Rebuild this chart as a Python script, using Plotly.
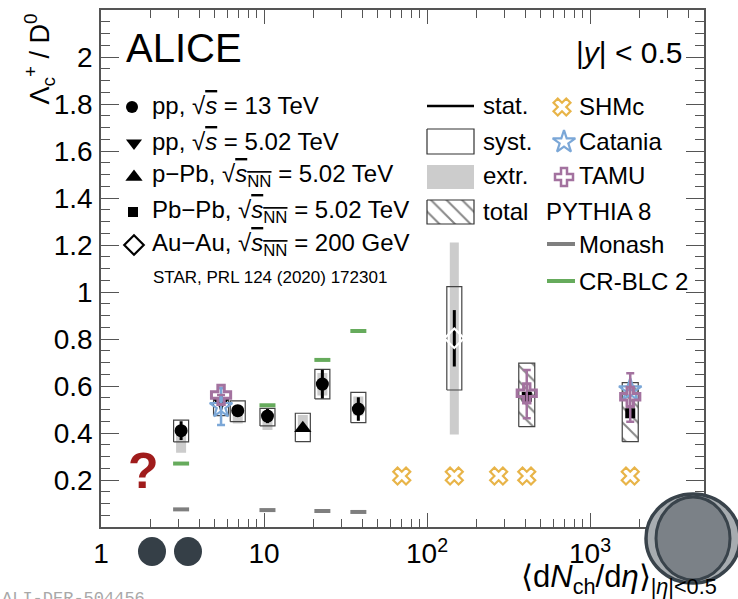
import math
import plotly.graph_objects as go

# ---------------- data ----------------
pp13_x = [3.1, 6.9, 10.5, 22.8, 37.9]
pp13_y = [0.410, 0.495, 0.472, 0.608, 0.502]
pp13_stat = [0.040, 0.015, 0.030, 0.061, 0.050]
pp13_syst_lo = [0.362, 0.448, 0.430, 0.545, 0.444]
pp13_syst_hi = [0.455, 0.537, 0.505, 0.671, 0.573]
pp13_extr_lo = [0.316, 0.440, 0.413, 0.560, 0.475]
pp13_extr_hi = [0.410, 0.495, 0.472, 0.655, 0.555]

pp5_x = [5.45]
pp5_y = [0.530]
pp5_stat = [0.030]
pp5_syst_lo = [0.474]
pp5_syst_hi = [0.548]

ppb_x = [17.3]
ppb_y = [0.420]
ppb_stat = [0.015]
ppb_syst_lo = [0.363]
ppb_syst_hi = [0.484]
ppb_extr_lo = [0.420]
ppb_extr_hi = [0.477]

pbpb_x = [409, 1764]
pbpb_y = [0.554, 0.484]
pbpb_stat = [0.015, 0.020]
pbpb_tot_lo = [0.427, 0.363]
pbpb_tot_hi = [0.697, 0.614]

auau_x = [147]
auau_y = [0.803]
auau_stat = [0.120]
auau_syst_lo = [0.583]
auau_syst_hi = [1.023]
auau_extr_lo = [0.394]
auau_extr_hi = [1.211]

shmc_x = [70, 147, 275, 409, 1764]
shmc_y = [0.217, 0.217, 0.217, 0.217, 0.217]

catania_x = [5.45, 1764]
catania_y = [0.512, 0.583]
catania_err = [0.078, 0.0]

tamu_x = [5.45, 409, 1764]
tamu_y = [0.562, 0.569, 0.554]
tamu_err_up = [0.0, 0.099, 0.100]
tamu_err_dn = [0.0, 0.106, 0.106]

monash_x = [3.1, 10.5, 22.8, 37.9]
monash_y = [0.075, 0.072, 0.068, 0.064]
crblc_x = [3.1, 10.5, 22.8, 37.9]
crblc_y = [0.270, 0.518, 0.711, 0.834]

x_tickvals = [1, 10, 100, 1000]
x_ticktext = ["1", "10", "10<sup>2</sup>", "10<sup>3</sup>"]
y_tickvals = [0.2, 0.4, 0.6, 0.8, 1.0, 1.2, 1.4, 1.6, 1.8, 2.0]
y_ticktext = ["0.2", "0.4", "0.6", "0.8", "1", "1.2", "1.4", "1.6", "1.8", "2"]

# ---------------- style ----------------
FONT = "Liberation Sans, Arial, Helvetica, sans-serif"
FRAME = "#555555"
C_SHMC = "#e8b448"
C_CAT = "#7ba7d7"
C_TAMU = "#a3729f"
C_GREEN = "#66ab5c"
C_MONASH = "#7f7f7f"
C_EXTR = "#cccccc"
HATCH = dict(shape="\\", fgcolor="#111111", bgcolor="white", size=11, solidity=0.18)

BOX_F = 10 ** (7.5 / 163)   # half width of syst boxes in log-x
EXTR_F = 10 ** (5.0 / 163)
LINE_F = 10 ** (8.0 / 163)

# plot area in pixels
L, R, T, B = 101, 704, 10, 527
W, H = 738, 599


def X(px):
    return (px - L) / (R - L)


def Y(py):
    return (B - py) / (B - T)


def boxes(xs, lo, hi, f):
    bx, by = [], []
    for x, a, b in zip(xs, lo, hi):
        bx += [x / f, x * f, x * f, x / f, x / f, None]
        by += [a, a, b, b, a, None]
    return bx, by


def segs(xs, ys, f):
    sx, sy = [], []
    for x, y in zip(xs, ys):
        sx += [x / f, x * f, None]
        sy += [y, y, None]
    return sx, sy


fig = go.Figure()

# extrapolation bands (grey)
ex = boxes(pp13_x + ppb_x, pp13_extr_lo + ppb_extr_lo, pp13_extr_hi + ppb_extr_hi, EXTR_F)
fig.add_trace(go.Scatter(x=ex[0], y=ex[1], mode="lines", fill="toself",
                         fillcolor=C_EXTR, line=dict(width=0), hoverinfo="skip"))
ex = boxes(auau_x, auau_extr_lo, auau_extr_hi, 10 ** (4.5 / 163))
fig.add_trace(go.Scatter(x=ex[0], y=ex[1], mode="lines", fill="toself",
                         fillcolor=C_EXTR, line=dict(width=0), hoverinfo="skip"))

# systematic boxes
sb = boxes(pp13_x + pp5_x + ppb_x + auau_x,
           pp13_syst_lo + pp5_syst_lo + ppb_syst_lo + auau_syst_lo,
           pp13_syst_hi + pp5_syst_hi + ppb_syst_hi + auau_syst_hi, BOX_F)
fig.add_trace(go.Scatter(x=sb[0], y=sb[1], mode="lines",
                         line=dict(color="#444444", width=1.2), hoverinfo="skip"))

# total (hatched) boxes Pb-Pb
tb = boxes(pbpb_x, pbpb_tot_lo, pbpb_tot_hi, 10 ** (8.0 / 163))
fig.add_trace(go.Scatter(x=tb[0], y=tb[1], mode="lines", fill="toself",
                         fillcolor="rgba(0,0,0,0)", fillpattern=HATCH,
                         line=dict(color="#444444", width=1.2), hoverinfo="skip"))


# data points with stat errors
def data_trace(xs, ys, err, symbol, size, open_=False):
    return go.Scatter(
        x=xs, y=ys, mode="markers",
        error_y=dict(type="data", array=err, color="black", thickness=3, width=0),
        marker=dict(symbol=symbol, size=size, color="white" if open_ else "black",
                    line=dict(color="black", width=2.2 if open_ else 0)),
        hoverinfo="skip")


fig.add_trace(data_trace(pp13_x, pp13_y, pp13_stat, "circle", 13))
fig.add_trace(data_trace(pp5_x, pp5_y, pp5_stat, "triangle-down", 14))
fig.add_trace(data_trace(ppb_x, ppb_y, ppb_stat, "triangle-up", 15))
fig.add_trace(data_trace(pbpb_x, pbpb_y, pbpb_stat, "square", 10))
fig.add_trace(data_trace(auau_x, auau_y, auau_stat, "diamond-open", 15, open_=True))

# PYTHIA lines
mx, my = segs(monash_x, monash_y, LINE_F)
fig.add_trace(go.Scatter(x=mx, y=my, mode="lines", line=dict(color=C_MONASH, width=4),
                         hoverinfo="skip"))
gx, gy = segs(crblc_x, crblc_y, LINE_F)
fig.add_trace(go.Scatter(x=gx, y=gy, mode="lines", line=dict(color=C_GREEN, width=4),
                         hoverinfo="skip"))

# models
fig.add_trace(go.Scatter(x=catania_x, y=catania_y, mode="markers",
                         error_y=dict(type="data", array=catania_err, color=C_CAT,
                                      thickness=2.5, width=4),
                         marker=dict(symbol="star-open", size=17, color=C_CAT,
                                     line=dict(color=C_CAT, width=2.2)),
                         hoverinfo="skip"))
fig.add_trace(go.Scatter(x=tamu_x, y=tamu_y, mode="markers",
                         error_y=dict(type="data", symmetric=False, array=tamu_err_up,
                                      arrayminus=tamu_err_dn, color=C_TAMU,
                                      thickness=2.5, width=4),
                         marker=dict(symbol="cross-open", size=16, color=C_TAMU,
                                     line=dict(color=C_TAMU, width=3)),
                         hoverinfo="skip"))
fig.add_trace(go.Scatter(x=shmc_x, y=shmc_y, mode="markers",
                         marker=dict(symbol="x-open", size=15, color=C_SHMC,
                                     line=dict(color=C_SHMC, width=2.2)),
                         hoverinfo="skip"))


# ---------------- legend decorations (pixel overlay axes) ----------------
def px_trace(**kw):
    kw.setdefault("hoverinfo", "skip")
    return go.Scatter(xaxis="x2", yaxis="y2", **kw)


fig.add_trace(px_trace(x=[427, 474], y=[106, 106], mode="lines",
                       line=dict(color="black", width=2.5)))
fig.add_trace(px_trace(x=[427, 474, 474, 427, 427], y=[129, 129, 154, 154, 129],
                       mode="lines", line=dict(color="#333333", width=1.2)))
fig.add_trace(px_trace(x=[427, 474, 474, 427, 427], y=[165, 165, 189, 189, 165],
                       mode="lines", fill="toself", fillcolor=C_EXTR, line=dict(width=0)))
fig.add_trace(px_trace(x=[427, 474, 474, 427, 427], y=[200, 200, 224, 224, 200],
                       mode="lines", fill="toself", fillcolor="rgba(0,0,0,0)",
                       fillpattern=HATCH, line=dict(color="#333333", width=1.2)))
fig.add_trace(px_trace(x=[562], y=[107], mode="markers",
                       marker=dict(symbol="x-open", size=15, color=C_SHMC,
                                   line=dict(color=C_SHMC, width=2.2))))
fig.add_trace(px_trace(x=[564], y=[142], mode="markers",
                       marker=dict(symbol="star-open", size=17, color=C_CAT,
                                   line=dict(color=C_CAT, width=2.2))))
fig.add_trace(px_trace(x=[564], y=[177], mode="markers",
                       marker=dict(symbol="cross-open", size=15, color=C_TAMU,
                                   line=dict(color=C_TAMU, width=2.5))))
fig.add_trace(px_trace(x=[547, 575], y=[244, 244], mode="lines",
                       line=dict(color=C_MONASH, width=4)))
fig.add_trace(px_trace(x=[547, 575], y=[281, 281], mode="lines",
                       line=dict(color=C_GREEN, width=4)))
leg_sym = [("circle", 12, 132, 107), ("triangle-down", 14, 134, 143),
           ("triangle-up", 15, 134, 177), ("square", 10, 133, 212)]
for s, sz, x0, y0 in leg_sym:
    fig.add_trace(px_trace(x=[x0], y=[y0], mode="markers",
                           marker=dict(symbol=s, size=sz, color="black")))
fig.add_trace(px_trace(x=[134], y=[245], mode="markers",
                       marker=dict(symbol="diamond-open", size=15, color="black",
                                   line=dict(color="black", width=2.2))))

# ---------------- annotations ----------------
ann = []


def text(px, py, s, size, xanchor="left", yanchor="middle", color="black", **kw):
    ann.append(dict(x=X(px), y=Y(py), xref="paper", yref="paper", text=s,
                    showarrow=False, xanchor=xanchor, yanchor=yanchor,
                    font=dict(family=kw.pop("family", FONT), size=size, color=color),
                    **kw))


SQ = "\u221a"
OL = "<span style='text-decoration:overline'>"
text(124, 48, "ALICE", 40)
text(684, 53, "|<i>y</i>| &lt; 0.5", 30, xanchor="right")
text(150, 105, f"pp, {SQ}{OL}<i>s</i></span> = 13 TeV", 24)
text(150, 141, f"pp, {SQ}{OL}<i>s</i></span> = 5.02 TeV", 24)
text(150, 176, f"p\u2212Pb, {SQ}{OL}<i>s</i><sub>NN</sub></span> = 5.02 TeV", 24)
text(150, 211, f"Pb\u2212Pb, {SQ}{OL}<i>s</i><sub>NN</sub></span> = 5.02 TeV", 24)
text(150, 244, f"Au\u2212Au, {SQ}{OL}<i>s</i><sub>NN</sub></span> = 200 GeV", 24)
text(151, 277, "STAR, PRL 124 (2020) 172301", 17)
text(481, 105, "stat.", 24)
text(481, 141, "syst.", 24)
text(481, 176, "extr.", 24)
text(481, 211, "total", 24)
text(577, 106, "SHMc", 24)
text(577, 141, "Catania", 24)
text(577, 176, "TAMU", 24)
text(544, 211, "PYTHIA 8", 24)
text(577, 244, "Monash", 24)
text(577, 281, "CR-BLC 2", 24)
text(40, 12, "\u039b<sub>c</sub><sup>+</sup> / D<sup>0</sup>", 27, xanchor="center",
     yanchor="top", textangle=-90)
text(719, 579, "\u27e8d<i>N</i><sub>ch</sub>/d<i>\u03b7</i>\u27e9<sub>|<i>\u03b7</i>|&lt;0.5</sub>",
     31, xanchor="right")
text(143, 471, "<b>?</b>", 50, xanchor="center", color="#a01c1c")
text(0, 598, "ALI-DER-504456", 17, color="#a8a8a8",
     family="Liberation Mono, Courier New, monospace")

# ---------------- overlay shapes ----------------
shapes = []


def ell(x0, y0, x1, y1, fill, line=None, lw=0):
    shapes.append(dict(type="circle", xref="paper", yref="paper",
                       x0=X(x0), x1=X(x1), y0=Y(y1), y1=Y(y0), layer="above",
                       fillcolor=fill, line=dict(color=line or fill, width=lw)))


ell(138, 537, 166, 566, "#353f47")
ell(174, 537, 202, 566, "#353f47")
ell(646, 494, 740, 583, "#a7acb0", "#39434b", 3.5)
ell(656, 497, 730, 580, "#7b8187", "#39434b", 3)

minor_x = [m * d for d in (1, 10, 100, 1000) for m in range(2, 10) if m * d <= 5000]
minor_y = [round(0.05 * i, 2) for i in range(1, 45) if i % 4 != 0]

axis_common = dict(showgrid=False, zeroline=False, showline=True, linecolor=FRAME,
                   linewidth=1.5, mirror="ticks", ticks="inside", tickcolor=FRAME,
                   tickwidth=1.2, tickfont=dict(family=FONT, size=28, color="black"))

fig.update_layout(
    width=W, height=H,
    margin=dict(l=L, r=W - R, t=T, b=H - B, autoexpand=False),
    paper_bgcolor="white", plot_bgcolor="white",
    showlegend=False,
    xaxis=dict(type="log", range=[0, math.log10(5000)], tickmode="array",
               tickvals=x_tickvals, ticktext=x_ticktext, ticklen=14,
               ticklabelstandoff=1,
               minor=dict(tickmode="array", tickvals=minor_x, ticks="inside",
                          ticklen=8, tickcolor=FRAME, tickwidth=1.2),
               **axis_common),
    yaxis=dict(range=[0, 2.2], tickmode="array", tickvals=y_tickvals,
               ticktext=y_ticktext, ticklen=18, ticklabelstandoff=1,
               minor=dict(tickmode="array", tickvals=minor_y, ticks="inside",
                          ticklen=9, tickcolor=FRAME, tickwidth=1.2),
               **axis_common),
    xaxis2=dict(overlaying="x", range=[L, R], visible=False, anchor="y2"),
    yaxis2=dict(overlaying="y", range=[B, T], visible=False, anchor="x2"),
    annotations=ann,
    shapes=shapes,
)

fig.write_html("out.html", config={"displayModeBar": False},
               post_script="document.body.style.margin='0';"
                           "document.body.style.overflow='hidden';")
